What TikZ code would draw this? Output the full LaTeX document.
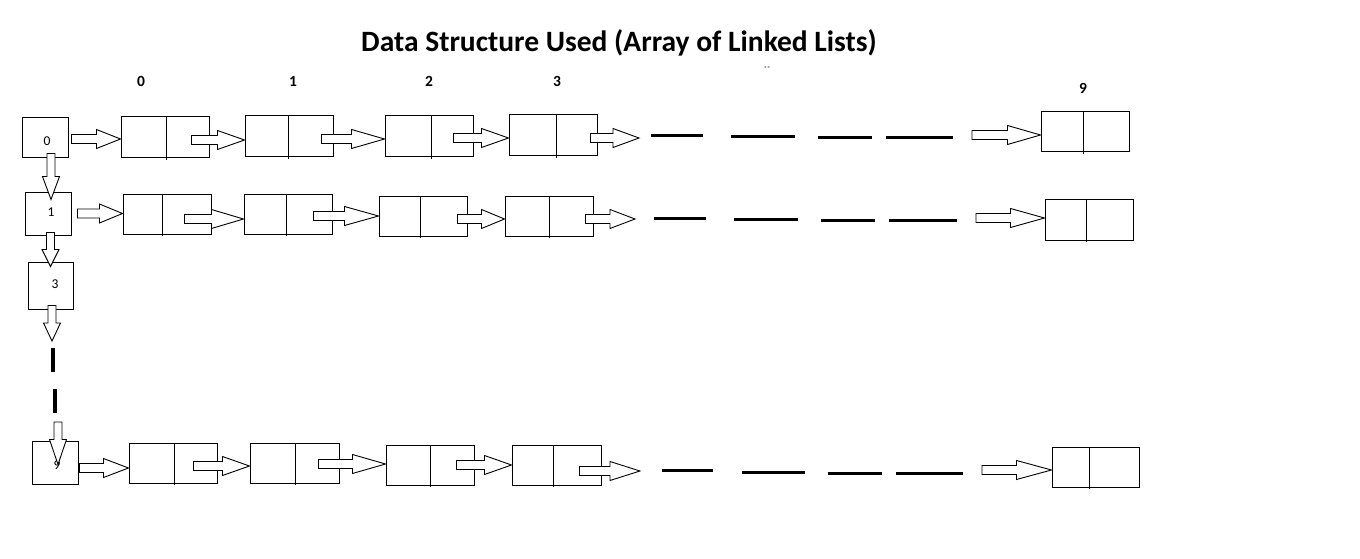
\documentclass[tikz,border=0pt]{standalone}
\usepackage{fontspec}
\setmainfont{Carlito}
\usetikzlibrary{fit,calc}
\tikzset{
  cell/.style={draw, line width=1pt, inner sep=0pt},
  divl/.style={line width=1pt},
  blk/.style={draw, fill=white, line width=0.9pt, line join=miter},
  dsh/.style={line width=3pt},
  vdsh/.style={line width=3.6pt},
  ttl/.style={font=\fontsize{29.5}{34}\selectfont\bfseries},
  col/.style={font=\fontsize{15.5}{18}\selectfont\bfseries},
  hl/.style={font=\fontsize{13.5}{15}\selectfont},
}
% list node: name, x1, y1, x2, y2, divider x
\newcommand\LLnode[6]{%
  \node[cell, fit={(#2,#3) (#4,#5)}] (#1) {};
  \draw[divl] (#6,#3) -- (#6,#5+2);}
% horizontal block arrow: [head length] start, end
\newcommand\HArr[3][27]{%
  \draw[blk] let \p1=#2, \p2=#3 in
    (\x1,\y1+4.5pt) -- (\x2-#1pt,\y1+4.5pt) -- (\x2-#1pt,\y1+9.5pt) -- (\x2,\y1)
    -- (\x2-#1pt,\y1-9.5pt) -- (\x2-#1pt,\y1-4.5pt) -- (\x1,\y1-4.5pt) -- cycle;}
% vertical (downward) block arrow: [head length] start, end
\newcommand\VArr[3][20]{%
  \draw[blk] let \p1=#2, \p2=#3 in
    (\x2-4pt,\y1) -- (\x2-4pt,\y2+#1pt) -- (\x2-8.5pt,\y2+#1pt) -- (\x2,\y2)
    -- (\x2+8.5pt,\y2+#1pt) -- (\x2+4pt,\y2+#1pt) -- (\x2+4pt,\y1) -- cycle;}
\begin{document}
\begin{tikzpicture}[x=1pt,y=-1pt]
\useasboundingbox (0,0) rectangle (1360,559);

% title and column labels
\node[ttl] (title) at (619,43) {Data Structure Used (Array of Linked Lists)};
\node[col] (k0) at (141,81) {0};
\node[col] (k1) at (293,81) {1};
\node[col] (k2) at (429,81) {2};
\node[col] (k3) at (557,81) {3};
\node[col] (k9) at (1083,88) {9};
\node[font=\fontsize{7}{8}\selectfont\bfseries] (mk) at (767,68) {-\kern1pt-};

% head (array) boxes
\node[cell, fit={(22,118) (68,158)}] (h0) {};
\node[cell, fit={(25,192) (71,235)}] (h1) {};
\node[cell, fit={(28,262) (73,309)}] (h3) {};
\node[cell, fit={(32,441) (78,484)}] (h9) {};
\node[hl] (t0) at (47,141) {0};
\node[hl] (t1) at (51,212) {1};
\node[hl] (t3) at (55,284) {3};
\node[hl] (t9) at (57,465) {9};

% row 1
\LLnode{a1}{121}{117}{209}{158}{166}
\LLnode{a2}{245}{116}{333}{157}{288}
\LLnode{a3}{385}{116}{473}{157}{431}
\LLnode{a4}{509}{115}{597}{156}{556}
\LLnode{a9}{1041}{112}{1129}{152}{1083}
% row 2
\LLnode{b1}{123}{194}{211}{234}{162}
\LLnode{b2}{244}{194}{332}{234}{286}
\LLnode{b3}{379}{196}{467}{236}{420}
\LLnode{b4}{505}{196}{593}{236}{549}
\LLnode{b9}{1045}{199}{1133}{240}{1086}
% row 3
\LLnode{c1}{129}{443}{217}{483}{174}
\LLnode{c2}{250}{443}{339}{483}{295}
\LLnode{c3}{386}{445}{474}{485}{430}
\LLnode{c4}{512}{445}{601}{485}{553}
\LLnode{c9}{1052}{447}{1139}{487}{1089}

% free ends
\coordinate (e1) at (639,138);
\coordinate (s1) at (972,135);
\coordinate (e2) at (635,219);
\coordinate (s2) at (976,218);
\coordinate (e3) at (640,471);
\coordinate (s3) at (982,470);
\coordinate (v1) at (52,341);
\coordinate (v2) at (58,422);

% row 1 arrows
\HArr[24]{([xshift=3pt,yshift=-1pt]h0.east)}{(a1.west)}
\HArr[27]{([xshift=-18pt,yshift=-2.5pt]a1.east)}{(a2.west)}
\HArr[33]{([xshift=-12pt,yshift=-2.5pt]a2.east)}{(a3.west)}
\HArr[27]{([xshift=-20pt,yshift=-1.5pt]a3.east)}{(a4.west)}
\HArr[26]{([xshift=-7pt,yshift=-2.5pt]a4.east)}{(e1)}
\HArr[33]{(s1)}{(a9.west)}
% row 2 arrows
\HArr[23]{([xshift=6pt]h1.east)}{(b1.west)}
\HArr[32]{([xshift=-27pt,yshift=-5pt]b1.east)}{(b2.west)}
\HArr[34]{([xshift=-19pt,yshift=-2pt]b2.east)}{(b3.west)}
\HArr[23]{([xshift=-10pt,yshift=-3pt]b3.east)}{(b4.west)}
\HArr[25]{([xshift=-8pt,yshift=-3pt]b4.east)}{(e2)}
\HArr[34]{(s2)}{(b9.west)}
% row 3 arrows
\HArr[25]{([xshift=1pt,yshift=-5.5pt]h9.east)}{(c1.west)}
\HArr[27]{([xshift=-24pt,yshift=-3pt]c1.east)}{(c2.west)}
\HArr[33]{([xshift=-21pt,yshift=-1pt]c2.east)}{(c3.west)}
\HArr[27]{([xshift=-18pt]c3.east)}{(c4.west)}
\HArr[30]{([xshift=-22pt,yshift=-6pt]c4.east)}{(e3)}
\HArr[35]{(s3)}{(c9.west)}

% vertical arrows
\VArr[23]{([yshift=5pt]h0.south)}{([xshift=3pt,yshift=-8pt]h1.north)}
\VArr[17]{([xshift=3pt,yshift=3pt]h1.south)}{([yshift=-5pt]h3.north)}
\VArr[18]{([xshift=1.5pt,yshift=4pt]h3.south)}{(v1)}
\VArr[25]{(v2)}{([xshift=3pt,yshift=-24pt]h9.north)}

% dashes
\draw[dsh] (651,136) -- (703,136);
\draw[dsh] (731,137) -- (795,137);
\draw[dsh] (818,138) -- (872,138);
\draw[dsh] (886,138) -- (953,138);
\draw[dsh] (654,218) -- (706,218);
\draw[dsh] (734,219) -- (798,219);
\draw[dsh] (821,220) -- (875,220);
\draw[dsh] (889,220) -- (957,220);
\draw[dsh] (662,470) -- (713,470);
\draw[dsh] (742,472) -- (805,472);
\draw[dsh] (828,473) -- (882,473);
\draw[dsh] (896,473) -- (963,473);
\draw[vdsh] (53,348) -- (53,372);
\draw[vdsh] (55,389) -- (55,413);
\end{tikzpicture}
\end{document}
